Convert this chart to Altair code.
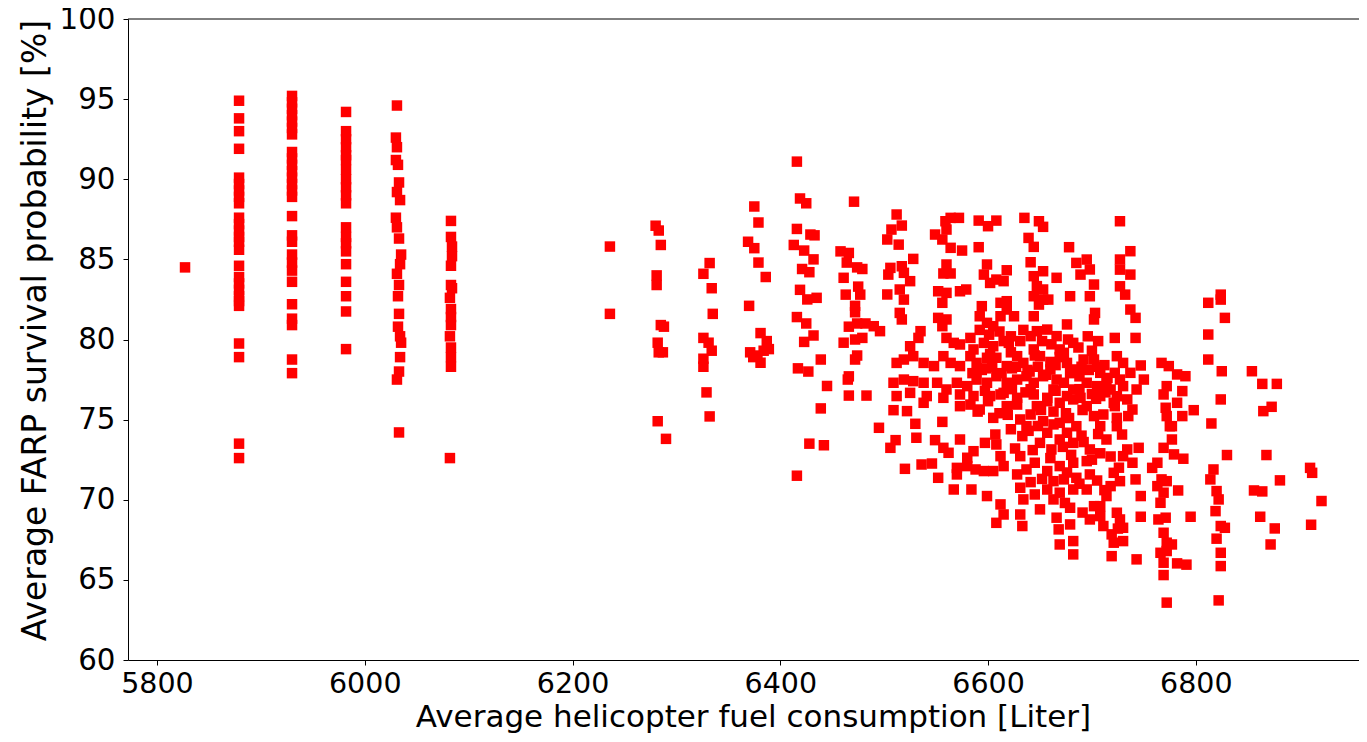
import altair as alt
import pandas as pd

# ---- left block: discrete columns ----
lone_x = [5827]
lone_y = [84.5]

col_5879 = [94.9, 93.8, 93.0, 91.9, 90.1, 89.7, 89.3, 88.9, 88.5, 87.6, 87.2, 86.8, 86.4, 86.1,
            85.6, 84.6, 83.9, 83.5, 83.1, 82.7, 82.4, 82.1, 79.75, 78.9, 73.5, 72.6]
col_5930 = [95.2, 94.8, 94.4, 94.0, 93.6, 93.2, 92.8, 91.7, 91.3, 90.9, 90.5, 90.1, 89.7, 89.3,
            88.9, 87.7, 86.5, 86.1, 85.3, 84.8, 84.3, 83.6, 82.2, 81.3, 80.9, 78.75, 77.9]
col_5982 = [94.2, 93.0, 92.5, 92.0, 91.5, 91.2, 90.6, 90.0, 89.5, 89.0, 88.5, 87.0, 86.4, 86.0,
            85.5, 84.7, 83.6, 82.7, 81.75, 79.4]
col_6031 = [94.6, 92.6, 92.0, 91.2, 90.9, 89.8, 89.2, 88.7, 87.6, 87.0, 86.3, 85.3, 84.7, 84.1,
            83.4, 82.7, 81.6, 80.8, 80.2, 79.8, 78.9, 78.0, 77.5, 74.2]
col_6031_x = [6031, 6030, 6031, 6030, 6032, 6033, 6031, 6034, 6030, 6031, 6033, 6035, 6034, 6031,
              6033, 6032, 6033, 6032, 6034, 6035, 6034, 6033, 6031, 6033]
col_6082 = [87.4, 86.4, 85.8, 85.2, 84.6, 83.4, 83.2, 82.6, 81.9, 81.4, 80.9, 80.2, 79.5, 78.9,
            78.3, 72.6]
col_6082_x = [6083, 6083, 6084, 6084, 6083, 6083, 6084, 6082, 6083, 6083, 6083, 6082, 6083, 6083,
              6083, 6082]

# ---- middle block ----
mid1_x = [6236, 6236, 6280, 6283, 6285, 6281, 6281, 6285, 6288, 6282, 6283, 6287, 6282, 6290]
mid1_y = [85.8, 81.6, 87.1, 86.8, 85.9, 84.0, 83.4, 80.9, 80.8, 79.8, 79.2, 79.2, 74.9, 73.8]

mid2_x = [6332, 6326, 6334, 6335, 6326, 6331, 6334, 6326, 6326, 6329, 6332,
          6375, 6379, 6369, 6375, 6379, 6386, 6370, 6381, 6387, 6371, 6378, 6384, 6381, 6374, 6389]
mid2_y = [84.77, 84.1, 83.2, 81.6, 80.1, 79.8, 79.3, 78.8, 78.3, 76.7, 75.2,
          88.3, 87.3, 86.1, 85.7, 84.8, 83.9, 82.1, 80.4, 79.9, 79.2, 79.0, 79.3, 78.55, 78.9, 79.4]

mid3_x = [6416, 6419, 6425, 6416, 6429, 6433, 6413, 6423, 6432, 6421, 6428, 6419, 6426, 6435,
          6416, 6425, 6432, 6423, 6439, 6417, 6427, 6445, 6439, 6428, 6442, 6416]
mid3_y = [91.1, 88.8, 88.5, 86.9, 86.55, 86.5, 85.9, 85.55, 85.0, 84.4, 84.2, 83.1, 82.5, 82.6,
          81.4, 81.0, 80.25, 79.85, 78.75, 78.2, 78.0, 77.1, 75.7, 73.5, 73.4, 71.5]

mid4_x = [6471, 6458, 6466, 6464, 6474, 6479, 6461, 6463, 6475, 6477, 6472, 6472, 6466, 6474,
          6482, 6461, 6472, 6479, 6474, 6472, 6466, 6465, 6466, 6483]
mid4_y = [88.6, 85.5, 85.4, 84.8, 84.5, 84.4, 83.85, 82.8, 83.3, 82.8, 82.1, 81.7, 80.8, 81.0,
          81.0, 79.8, 80.0, 80.1, 79.0, 78.75, 77.7, 77.5, 76.5, 76.5]

# ---- dense block, upper part ----
up1_x = [6512, 6517, 6507, 6503, 6514, 6564, 6572, 6559, 6560, 6549, 6556, 6564, 6575, 6591,
         6600, 6608, 6635, 6649, 6653, 6639, 6644, 6591, 6678, 6641, 6653, 6618, 6599, 6596,
         6602, 6608, 6615, 6685, 6695, 6698, 6689, 6702, 6679, 6698, 6703, 6702, 6666]
up1_y = [87.80, 87.11, 86.86, 86.24, 85.92, 87.59, 87.59, 87.38, 86.86, 86.55, 86.24, 85.72, 85.55, 87.42,
         87.07, 87.42, 87.59, 87.38, 87.03, 86.34, 85.78, 85.76, 85.76, 84.82, 84.26, 84.32, 84.68, 84.05,
         83.53, 83.74, 83.64, 84.78, 84.99, 84.37, 84.05, 83.43, 82.70, 82.70, 81.66, 81.25, 83.85]

up2_x = [6528, 6517, 6506, 6504, 6519, 6525, 6515, 6519, 6503, 6560, 6557, 6564, 6552, 6560,
         6556, 6573, 6579, 6515, 6517, 6552, 6560, 6556, 6490, 6496, 6535, 6533, 6525, 6594,
         6592, 6599, 6605, 6612, 6618, 6618, 6625, 6612, 6644, 6647, 6653, 6644, 6649, 6644,
         6653, 6658, 6676, 6677, 6682, 6673]
up2_y = [85.03, 84.57, 84.47, 84.05, 84.16, 83.64, 83.12, 82.49, 82.81, 84.68, 84.12, 84.12, 83.01, 82.91,
         82.29, 83.01, 83.12, 81.66, 81.25, 81.35, 81.25, 80.83, 80.83, 80.52, 80.52, 80.10, 79.58, 82.08,
         81.45, 81.04, 80.83, 81.45, 82.39, 81.87, 81.45, 82.29, 83.95, 83.33, 83.12, 82.70, 82.18, 81.45,
         82.49, 82.49, 80.94, 80.00, 79.79, 79.17]

up3_x = [6560, 6567, 6573, 6583, 6586, 6596, 6605, 6615, 6620, 6631, 6641, 6647, 6657, 6666,
         6669, 6676, 6682, 6692, 6702, 6708, 6714,
         6512, 6519, 6528, 6538, 6548, 6557, 6564, 6573, 6583, 6589, 6599, 6608, 6618, 6628,
         6634, 6644, 6650, 6660, 6666, 6673]
up3_y = [80.10, 79.79, 79.69, 80.10, 79.38, 79.79, 79.58, 79.90, 79.79, 79.90, 80.21, 80.52, 80.62, 80.21,
         79.38, 78.54, 78.13, 78.75, 78.75, 77.92, 77.30,
         78.54, 78.75, 78.96, 78.54, 78.34, 78.96, 78.54, 78.34, 78.96, 78.54, 78.86, 78.86, 78.34, 78.96,
         78.54, 79.38, 78.96, 78.13, 77.50, 77.30]

up4_x = [6509, 6519, 6528, 6538, 6551, 6560, 6570, 6580, 6589, 6599, 6608, 6618, 6628, 6637,
         6644, 6653, 6663, 6682, 6695, 6705,
         6512, 6525, 6541, 6557, 6573, 6586, 6602, 6615, 6628, 6644, 6657, 6676, 6689, 6708, 6718]
up4_y = [77.30, 77.50, 77.40, 77.30, 77.30, 76.88, 77.30, 77.09, 77.50, 77.30, 77.71, 77.30, 77.50, 77.71,
         77.30, 77.71, 76.88, 76.88, 77.30, 77.09,
         76.47, 76.67, 76.47, 76.36, 76.57, 76.47, 76.47, 76.67, 76.36, 76.57, 76.36, 76.47, 76.36, 76.47, 76.88]

# ---- dense core (solid-looking blob) ----
core1_x = [6592, 6601, 6611, 6622, 6634, 6652, 6661, 6687, 6696, 6706, 6598, 6627, 6638, 6660, 6690, 6712]
core1_y = [80.6, 80.3, 80.5, 80.2, 80.6, 79.9, 79.7, 79.5, 80.2, 79.9, 78.2, 78.3, 78.1, 78.6, 78.3, 78.4]
core2_x = [6585, 6594, 6604, 6613, 6623, 6640, 6648, 6656, 6665, 6679, 6688, 6697, 6705, 6715,
           6602, 6622, 6645, 6669, 6700]
core2_y = [77.9, 78.1, 78.3, 77.9, 78.2, 78.0, 78.3, 77.8, 78.4, 77.9, 77.7, 78.1, 78.3, 77.6,
           79.1, 79.2, 79.0, 78.9, 79.3]
core3_x = [6590, 6597, 6619, 6623, 6636, 6651, 6663, 6675, 6691, 6704, 6713, 6641, 6665, 6688,
           6700, 6611, 6653, 6678]
core3_y = [75.5, 76.8, 75.3, 76.9, 76.7, 75.6, 75.5, 75.4, 75.6, 76.3, 76.7, 76.9, 76.8, 76.9,
           76.6, 75.4, 74.9, 75.1]
core4_x = [6622, 6639, 6648, 6663, 6690, 6706, 6626, 6643, 6672, 6692, 6708, 6660, 6680, 6700, 6718]
core4_y = [74.4, 74.3, 74.6, 74.7, 74.0, 74.1, 73.2, 73.1, 73.3, 73.6, 72.9, 72.6, 72.8, 72.5, 72.7]
core5_x = [6641, 6652, 6676, 6688, 6705, 6712, 6650, 6674, 6691, 6708, 6725]
core5_y = [71.1, 71.3, 71.7, 71.0, 71.2, 70.6, 69.4, 69.8, 69.2, 69.6, 68.2]

# ---- dense block, lower part ----
lo1_x = [6538, 6509, 6522, 6495, 6530, 6556, 6511, 6506, 6531, 6549, 6557, 6562, 6573, 6520,
         6536, 6546, 6552, 6570, 6570, 6580, 6586, 6597, 6607, 6608, 6612, 6615, 6605, 6596,
         6588, 6580, 6573, 6583, 6592, 6600, 6605, 6612, 6618, 6628, 6631, 6637, 6633, 6641,
         6647]
lo1_y = [76.05, 75.59, 75.53, 74.49, 74.74, 74.86, 73.72, 73.24, 73.87, 73.72, 73.24, 72.93, 73.76, 71.93,
         72.20, 72.26, 71.37, 71.99, 71.58, 72.62, 73.03, 73.55, 74.07, 73.45, 72.72, 72.10, 71.79, 71.79,
         71.89, 72.10, 75.84, 75.94, 75.63, 76.15, 75.11, 76.57, 75.84, 75.94, 75.01, 74.59, 73.97, 75.32,
         75.84]

lo2_x = [6657, 6669, 6682, 6695, 6702, 6711, 6721, 6669, 6676, 6685, 6682, 6669, 6657, 6650,
         6661, 6698, 6708, 6714, 6631, 6628, 6637, 6645, 6657, 6669, 6682, 6695, 6698, 6685,
         6673, 6663, 6657, 6669, 6682, 6695, 6631, 6634, 6645, 6663, 6679, 6702, 6714, 6721,
         6718, 6708, 6724]
lo2_y = [76.15, 76.05, 76.26, 75.84, 75.22, 75.32, 76.05, 74.80, 74.18, 74.59, 73.55, 73.76, 74.18, 73.55,
         73.14, 73.14, 74.59, 73.76, 72.72, 71.58, 71.89, 72.31, 71.79, 72.10, 72.31, 72.41, 71.58, 71.37,
         71.27, 71.16, 70.64, 70.44, 70.64, 70.64, 70.75, 70.02, 70.33, 70.02, 69.50, 69.60, 70.23, 71.68,
         70.85, 68.98, 69.19]

lo3_x = [6567, 6584, 6599, 6612, 6615, 6608, 6631, 6633, 6666, 6668, 6679, 6669, 6682, 6682,
         6719, 6721, 6719, 6698, 6711]
lo3_y = [70.64, 70.64, 70.23, 69.71, 69.08, 68.56, 69.08, 68.36, 68.88, 68.15, 68.46, 67.21, 67.42, 66.59,
         67.84, 67.32, 66.48, 68.77, 68.36]

# ---- right block ----
r1_x = [6727, 6737, 6727, 6727, 6737, 6727, 6732, 6737, 6742, 6722, 6742, 6724, 6730, 6747,
        6750, 6727, 6737, 6722, 6730, 6743, 6724, 6734, 6722, 6739, 6724, 6735]
r1_y = [87.38, 85.51, 84.99, 84.36, 84.05, 83.32, 82.80, 81.87, 81.35, 80.10, 80.10, 78.96, 78.54, 78.38,
        77.50, 77.50, 77.92, 77.92, 77.09, 76.88, 76.46, 76.26, 75.84, 75.63, 75.11, 75.22]

r2_x = [6767, 6774, 6782, 6790, 6772, 6787, 6769, 6782, 6771, 6772, 6787, 6798, 6777,
        6812, 6824, 6824, 6828, 6812, 6812, 6825, 6824, 6815,
        6854, 6864, 6878, 6865, 6873]
r2_y = [78.54, 78.34, 77.82, 77.71, 77.09, 76.78, 76.57, 76.05, 75.74, 75.22, 75.22, 75.59, 74.59,
        82.29, 82.80, 82.49, 81.35, 80.31, 78.75, 78.02, 76.26, 74.76,
        78.02, 77.23, 77.23, 75.53, 75.80]

r3_x = [6724, 6729, 6734, 6745, 6730, 6739, 6726, 6727, 6742, 6747, 6727, 6730, 6747, 6730,
        6743, 6775, 6777, 6769, 6779, 6788, 6763, 6758, 6767, 6772, 6763, 6769, 6766, 6783,
        6764, 6771, 6769, 6772, 6777, 6766, 6772, 6769, 6782, 6791, 6769, 6772, 6795]
r3_y = [74.59, 74.07, 73.14, 73.24, 72.72, 72.31, 72.00, 71.16, 71.27, 70.23, 68.77, 68.25, 68.94, 67.42,
        66.28, 74.59, 73.76, 73.24, 72.83, 72.56, 72.31, 71.99, 71.27, 71.16, 70.85, 70.44, 69.81, 70.58,
        68.77, 68.88, 67.94, 67.32, 67.21, 66.69, 66.80, 66.07, 66.03, 65.95, 65.30, 63.58, 68.94]

r4_x = [6830, 6817, 6814, 6820, 6822, 6819, 6824, 6828, 6820, 6824, 6824, 6822,
        6868, 6881, 6856, 6864, 6862, 6876, 6872, 6910, 6912, 6921, 6911]
r4_y = [72.79, 71.89, 71.27, 70.54, 70.02, 69.29, 68.36, 68.25, 67.57, 66.69, 65.86, 63.72,
        72.79, 71.21, 70.58, 70.52, 68.94, 68.21, 67.21, 71.99, 71.68, 69.92, 68.44]

# ---- assemble ----
xs, ys = [], []
xs += lone_x; ys += lone_y
for cx, col in [(5879, col_5879), (5930, col_5930), (5982, col_5982)]:
    xs += [cx] * len(col); ys += col
for gx, gy in [(col_6031_x, col_6031), (col_6082_x, col_6082),
               (mid1_x, mid1_y), (mid2_x, mid2_y), (mid3_x, mid3_y), (mid4_x, mid4_y),
               (up1_x, up1_y), (up2_x, up2_y), (up3_x, up3_y), (up4_x, up4_y),
               (core1_x, core1_y), (core2_x, core2_y), (core3_x, core3_y),
               (core4_x, core4_y), (core5_x, core5_y),
               (lo1_x, lo1_y), (lo2_x, lo2_y), (lo3_x, lo3_y),
               (r1_x, r1_y), (r2_x, r2_y), (r3_x, r3_y), (r4_x, r4_y)]:
    assert len(gx) == len(gy), (len(gx), len(gy))
    xs += gx; ys += gy

df = pd.DataFrame({"fuel": xs, "surv": ys})

W, H = 1231, 641
FONT = "DejaVu Sans"

points = alt.Chart(df).mark_point(
    shape="square", filled=True, size=110, color="#ff0000", opacity=1
).encode(
    x=alt.X("fuel:Q",
            scale=alt.Scale(domain=[5772.1, 6957.1], nice=False, zero=False),
            axis=alt.Axis(values=[5800, 6000, 6200, 6400, 6600, 6800], format="d",
                          title="Average helicopter fuel consumption [Liter]",
                          titleX=625, titleY=66, titleAlign="center", titleBaseline="alphabetic",
                          titleFontSize=31, labelFontSize=28.5, labelPadding=4)),
    y=alt.Y("surv:Q",
            scale=alt.Scale(domain=[60, 100], nice=False, zero=False),
            axis=alt.Axis(values=[60, 65, 70, 75, 80, 85, 90, 95, 100], format="d",
                          title="Average FARP survival probability [%]",
                          titleX=-83, titleY=311, titleAngle=270, titleAlign="center",
                          titleBaseline="alphabetic", titleFontSize=33,
                          labelFontSize=29.3, labelPadding=8)),
)

frame_top = alt.Chart(pd.DataFrame({"k": [0]})).mark_rule(color="black", strokeWidth=1).encode(
    x=alt.value(0), x2=alt.value(W), y=alt.value(0)
)

chart = alt.layer(points, frame_top).properties(
    width=W, height=H,
    autosize=alt.AutoSizeParams(type="none"),
    padding={"left": 120, "top": 11, "right": 0, "bottom": 74},
).configure_view(stroke=None).configure_axis(
    labelFont=FONT, labelColor="black",
    titleFont=FONT, titleColor="black", titleFontWeight="normal",
    tickColor="black", tickSize=5, tickWidth=1,
    domainColor="black", domainWidth=1, grid=False,
)

chart.save("out.html", embed_options={"renderer": "svg", "actions": False})
